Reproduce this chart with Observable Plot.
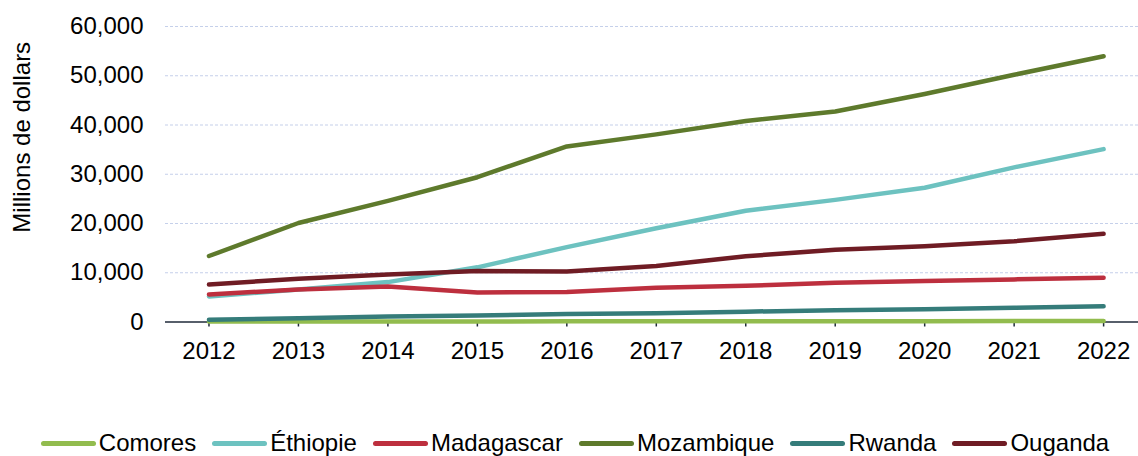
<!DOCTYPE html>
<html>
<head>
<meta charset="utf-8">
<script src="https://cdn.jsdelivr.net/npm/d3@7"></script>
<script src="https://cdn.jsdelivr.net/npm/@observablehq/plot@0.6"></script>
<style>
  html, body { margin: 0; padding: 0; background: #fff; }
  body { width: 1138px; height: 456px; overflow: hidden; font-family: "Liberation Sans", Arial, sans-serif; }
  #legend { display: flex; justify-content: center; align-items: center; gap: 16px; padding-top: 5px; padding-left: 12px; font-size: 24px; color: #000; line-height: 26px; }
  .item { display: flex; align-items: center; }
  .sw { width: 55px; height: 5px; border-radius: 3px; margin-right: 3px; }
</style>
</head>
<body>
<div id="chart"></div>
<div id="legend"></div>
<script>
const years = [2012, 2013, 2014, 2015, 2016, 2017, 2018, 2019, 2020, 2021, 2022];
const countries = ["Comores", "Éthiopie", "Madagascar", "Mozambique", "Rwanda", "Ouganda"];
const colors = ["#92bc4e", "#6dc2c0", "#bd2f3e", "#5e7a2c", "#357c7a", "#6f1c24"];

const comores    = [90, 100, 110, 120, 130, 140, 150, 160, 170, 180, 190];
const ethiopie   = [5200, 6600, 8100, 11100, 15200, 19050, 22600, 24800, 27250, 31400, 35100];
const madagascar = [5600, 6600, 7200, 6000, 6100, 6950, 7350, 7950, 8350, 8650, 9000];
const mozambique = [13400, 20100, 24600, 29400, 35650, 38100, 40800, 42750, 46300, 50200, 53950];
const rwanda     = [450, 750, 1100, 1300, 1600, 1800, 2100, 2400, 2600, 2900, 3200];
const ouganda    = [7600, 8800, 9650, 10350, 10250, 11350, 13350, 14650, 15400, 16400, 17900];

const yTicks = [0, 10000, 20000, 30000, 40000, 50000, 60000];
const yTitle = "Millions de dollars";

const series = [comores, ethiopie, madagascar, mozambique, rwanda, ouganda];
const data = [];
countries.forEach((c, i) => years.forEach((yr, j) => data.push({country: c, year: yr, value: series[i][j]})));

const chart = Plot.plot({
  width: 1138,
  height: 425,
  marginTop: 26,
  marginBottom: 103.5,
  marginLeft: 165,
  marginRight: 0,
  style: {fontFamily: "Liberation Sans, Arial, sans-serif", fontSize: "24px", color: "#000", background: "#fff"},
  x: {type: "linear", domain: [2011.514, 2022.39]},
  y: {domain: [0, 60000]},
  color: {domain: countries, range: colors},
  marks: [
    Plot.ruleY(yTicks.filter(d => d > 0), {stroke: "#c5d0ea", strokeWidth: 1.2, strokeDasharray: "3,2"}),
    Plot.ruleY([0], {stroke: "#1f2a3a", strokeWidth: 1.5}),
    Plot.axisY({ticks: yTicks, tickSize: 0, tickPadding: 22, tickFormat: d3.format(","), label: null, fontSize: 24}),
    Plot.axisX({ticks: years, tickSize: 5, tickPadding: 15, tickFormat: d => String(d), label: null, stroke: "#1f2a3a", strokeWidth: 1.5, fontSize: 24}),
    Plot.text([yTitle], {text: d => d, frameAnchor: "left", textAnchor: "middle", rotate: -90, dx: -143, dy: -37, fontSize: 24, fill: "#000"}),
    Plot.line(data, {x: "year", y: "value", z: "country", stroke: "country", strokeWidth: 4.5, strokeLinecap: "round", strokeLinejoin: "round"})
  ]
});
document.getElementById("chart").appendChild(chart);

const legend = document.getElementById("legend");
countries.forEach((c, i) => {
  const it = document.createElement("div");
  it.className = "item";
  const sw = document.createElement("span");
  sw.className = "sw";
  sw.style.background = colors[i];
  const tx = document.createElement("span");
  tx.textContent = c;
  it.appendChild(sw);
  it.appendChild(tx);
  legend.appendChild(it);
});
</script>
</body>
</html>
